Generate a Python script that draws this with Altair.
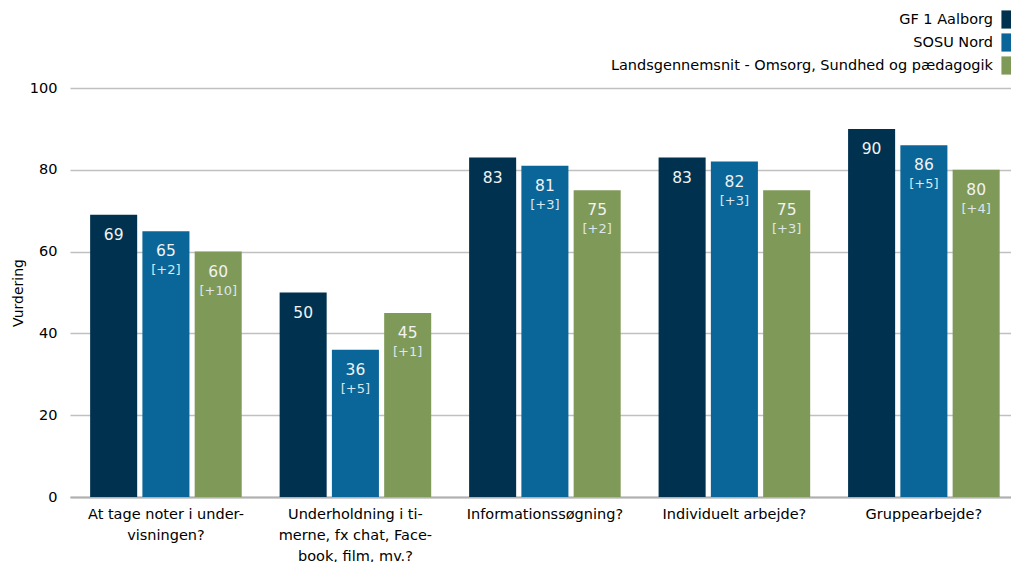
import altair as alt
import pandas as pd

# Question categories (line breaks marked with "|")
categories = [
    "At tage noter i under-|visningen?",
    "Underholdning i ti-|merne, fx chat, Face-|book, film, mv.?",
    "Informationssøgning?",
    "Individuelt arbejde?",
    "Gruppearbejde?",
]
series = [
    "GF 1 Aalborg",
    "SOSU Nord",
    "Landsgennemsnit - Omsorg, Sundhed og pædagogik",
]
colors = ["#003250", "#0a6699", "#7f9a58"]

gf1_values = [69, 50, 83, 83, 90]
sosu_values = [65, 36, 81, 82, 86]
land_values = [60, 45, 75, 75, 80]

gf1_diffs = ["", "", "", "", ""]
sosu_diffs = ["[+2]", "[+5]", "[+3]", "[+3]", "[+5]"]
land_diffs = ["[+10]", "[+1]", "[+2]", "[+3]", "[+4]"]

rows = []
for name, vals, diffs in [
    (series[0], gf1_values, gf1_diffs),
    (series[1], sosu_values, sosu_diffs),
    (series[2], land_values, land_diffs),
]:
    for cat, v, d in zip(categories, vals, diffs):
        rows.append({"kategori": cat, "serie": name, "vaerdi": v, "diff": d})
df = pd.DataFrame(rows)

FONT = "DejaVu Sans"

x_enc = alt.X(
    "kategori:N",
    sort=categories,
    # the plot runs off the right edge, so outer padding is skewed right
    scale=alt.Scale(paddingInner=0.2, paddingOuter=0.083, align=0.64),
    axis=alt.Axis(
        title=None,
        labelExpr="split(datum.label, '|')",
        labelAngle=0,
        labelFontSize=14.5,
        labelColor="#000000",
        labelFont=FONT,
        labelPadding=10,
        labelLineHeight=21,
        ticks=False,
        domainColor="#b0b0b0",
        domainWidth=2,
        labelLimit=200,
    ),
)
xoff_enc = alt.XOffset(
    "serie:N", sort=series, scale=alt.Scale(paddingInner=0.1, paddingOuter=0)
)
y_enc = alt.Y(
    "vaerdi:Q",
    scale=alt.Scale(domain=[0, 100]),
    axis=alt.Axis(
        title="Vurdering",
        titleFont=FONT,
        titleFontSize=14,
        titleFontWeight="normal",
        titleColor="#000000",
        titlePadding=4,
        values=[0, 20, 40, 60, 80, 100],
        labelFontSize=14.5,
        labelColor="#000000",
        labelFont=FONT,
        labelPadding=13,
        ticks=False,
        domain=False,
        grid=True,
        gridColor="#c0c0c0",
        gridWidth=1.5,
    ),
)

bars = alt.Chart(df).mark_bar().encode(
    x=x_enc,
    xOffset=xoff_enc,
    y=y_enc,
    color=alt.Color(
        "serie:N",
        sort=series,
        scale=alt.Scale(domain=series, range=colors),
        legend=alt.Legend(
            title=None,
            orient="none",
            legendX=931,
            legendY=-78,
            direction="vertical",
            symbolType="square",
            symbolSize=330,
            symbolStrokeWidth=0,
            symbolOpacity=1,
            labelAlign="right",
            # labels sit to the left of the swatches
            labelOffset={"expr": "-27"},
            labelFontSize=14.5,
            labelFont=FONT,
            labelColor="#000000",
            labelLimit=600,
            rowPadding=4,
        ),
    ),
)

value_text = alt.Chart(df).mark_text(
    dy=20, fontSize=15.5, font=FONT, color="#f2f2f2", baseline="middle"
).encode(
    x=alt.X("kategori:N", sort=categories),
    xOffset=alt.XOffset("serie:N", sort=series),
    y="vaerdi:Q",
    text="vaerdi:Q",
)

diff_text = alt.Chart(df).mark_text(
    dy=39, fontSize=13, font=FONT, color="#dce6ee", baseline="middle"
).encode(
    x=alt.X("kategori:N", sort=categories),
    xOffset=alt.XOffset("serie:N", sort=series),
    y="vaerdi:Q",
    text="diff:N",
)

chart = (
    alt.layer(bars, value_text, diff_text)
    .properties(
        width=941,
        height=409,
        autosize=alt.AutoSizeParams(type="none"),
        padding={"left": 70, "top": 88, "right": 0, "bottom": 65},
        background="#ffffff",
    )
    .configure_view(stroke=None)
)

chart.save("out.html", embed_options={"renderer": "svg", "actions": False})
